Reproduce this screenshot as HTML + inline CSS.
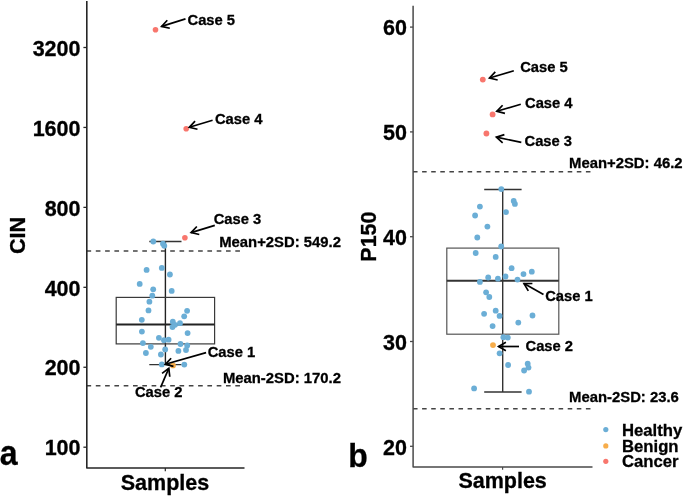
<!DOCTYPE html>
<html><head><meta charset="utf-8"><style>
html,body{margin:0;padding:0;background:#fff;}
svg{display:block;filter:blur(0.3px);}
text{font-family:"Liberation Sans",sans-serif;font-weight:bold;fill:#000;stroke:#000;stroke-width:0.3px;}
</style></head><body>
<svg width="685" height="496" viewBox="0 0 685 496">
<rect width="685" height="496" fill="#fff"/>
<line x1="86.5" y1="250.9" x2="244.5" y2="250.9" stroke="#444" stroke-width="1.45" stroke-dasharray="4.65 4.65"/>
<line x1="86.5" y1="385.8" x2="244.5" y2="385.8" stroke="#444" stroke-width="1.45" stroke-dasharray="4.65 4.65"/>
<line x1="165.4" y1="241.5" x2="165.4" y2="364.6" stroke="#222" stroke-width="1.4" />
<line x1="149.3" y1="241.5" x2="181.5" y2="241.5" stroke="#333" stroke-width="1.4" />
<line x1="149.3" y1="364.6" x2="181.5" y2="364.6" stroke="#333" stroke-width="1.4" />
<rect x="116.2" y="297.4" width="98.4" height="46.5" fill="none" stroke="#3a3a3a" stroke-width="1.2"/>
<line x1="116.2" y1="324.5" x2="214.6" y2="324.5" stroke="#222" stroke-width="2.2" />
<circle cx="153.3" cy="241.5" r="2.9" fill="#6BAED6"/>
<circle cx="163.0" cy="243.7" r="2.9" fill="#6BAED6"/>
<circle cx="164.3" cy="245.8" r="2.9" fill="#6BAED6"/>
<circle cx="146.6" cy="269.9" r="2.9" fill="#6BAED6"/>
<circle cx="161.8" cy="267.9" r="2.9" fill="#6BAED6"/>
<circle cx="169.9" cy="274.5" r="2.9" fill="#6BAED6"/>
<circle cx="139.7" cy="283.9" r="2.9" fill="#6BAED6"/>
<circle cx="153.2" cy="289.3" r="2.9" fill="#6BAED6"/>
<circle cx="171.7" cy="290.9" r="2.9" fill="#6BAED6"/>
<circle cx="152.3" cy="295.7" r="2.9" fill="#6BAED6"/>
<circle cx="149.4" cy="301.7" r="2.9" fill="#6BAED6"/>
<circle cx="148.5" cy="310.4" r="2.9" fill="#6BAED6"/>
<circle cx="141.8" cy="319.8" r="2.9" fill="#6BAED6"/>
<circle cx="141.9" cy="331.6" r="2.9" fill="#6BAED6"/>
<circle cx="187.1" cy="310.8" r="2.9" fill="#6BAED6"/>
<circle cx="184.2" cy="316.3" r="2.9" fill="#6BAED6"/>
<circle cx="180.0" cy="323.2" r="2.9" fill="#6BAED6"/>
<circle cx="172.8" cy="321.6" r="2.9" fill="#6BAED6"/>
<circle cx="175.0" cy="324.8" r="2.9" fill="#6BAED6"/>
<circle cx="172.5" cy="327.0" r="2.9" fill="#6BAED6"/>
<circle cx="187.6" cy="333.1" r="2.9" fill="#6BAED6"/>
<circle cx="158.9" cy="337.8" r="2.9" fill="#6BAED6"/>
<circle cx="164.0" cy="340.2" r="2.9" fill="#6BAED6"/>
<circle cx="168.6" cy="339.7" r="2.9" fill="#6BAED6"/>
<circle cx="142.9" cy="343.1" r="2.9" fill="#6BAED6"/>
<circle cx="150.8" cy="346.8" r="2.9" fill="#6BAED6"/>
<circle cx="180.5" cy="344.0" r="2.9" fill="#6BAED6"/>
<circle cx="187.2" cy="345.5" r="2.9" fill="#6BAED6"/>
<circle cx="165.2" cy="349.4" r="2.9" fill="#6BAED6"/>
<circle cx="186.0" cy="350.0" r="2.9" fill="#6BAED6"/>
<circle cx="178.4" cy="350.9" r="2.9" fill="#6BAED6"/>
<circle cx="145.9" cy="353.0" r="2.9" fill="#6BAED6"/>
<circle cx="160.9" cy="354.5" r="2.9" fill="#6BAED6"/>
<circle cx="161.8" cy="364.4" r="2.9" fill="#6BAED6"/>
<circle cx="184.3" cy="364.6" r="2.9" fill="#6BAED6"/>
<circle cx="173.0" cy="365.4" r="2.9" fill="#F7AD4B"/>
<circle cx="184.9" cy="237.7" r="2.8" fill="#F8766D"/>
<circle cx="186.2" cy="128.7" r="2.8" fill="#F8766D"/>
<circle cx="155.5" cy="29.8" r="2.8" fill="#F8766D"/>
<polyline points="86.8,0.9 86.8,468 244.5,468" fill="none" stroke="#262626" stroke-width="1.6" stroke-linejoin="round"/>
<line x1="83.4" y1="447.2" x2="86.8" y2="447.2" stroke="#262626" stroke-width="1.3" />
<text x="80.5" y="455.4" font-size="21.5" text-anchor="end" >100</text>
<line x1="83.4" y1="367.26" x2="86.8" y2="367.26" stroke="#262626" stroke-width="1.3" />
<text x="80.5" y="375.46" font-size="21.5" text-anchor="end" >200</text>
<line x1="83.4" y1="287.32" x2="86.8" y2="287.32" stroke="#262626" stroke-width="1.3" />
<text x="80.5" y="295.52" font-size="21.5" text-anchor="end" >400</text>
<line x1="83.4" y1="207.38" x2="86.8" y2="207.38" stroke="#262626" stroke-width="1.3" />
<text x="80.5" y="215.58" font-size="21.5" text-anchor="end" >800</text>
<line x1="83.4" y1="127.44" x2="86.8" y2="127.44" stroke="#262626" stroke-width="1.3" />
<text x="80.5" y="135.64" font-size="21.5" text-anchor="end" >1600</text>
<line x1="83.4" y1="47.5" x2="86.8" y2="47.5" stroke="#262626" stroke-width="1.3" />
<text x="80.5" y="55.7" font-size="21.5" text-anchor="end" >3200</text>
<line x1="165.3" y1="468" x2="165.3" y2="471.3" stroke="#262626" stroke-width="1.2" />
<text x="165.0" y="489.9" font-size="21.5" text-anchor="middle" >Samples</text>
<text x="0" y="0" font-size="21.6" text-anchor="middle" transform="translate(25.0,235.5) rotate(-90)">CIN</text>
<text x="0" y="0" font-size="34.5" transform="translate(-0.3,464.8) scale(0.93,1)">a</text>
<line x1="185.5" y1="18.9" x2="161.6" y2="26.4" stroke="#000" stroke-width="1.7"/>
<polyline points="169.80,28.23 161.6,26.4 167.28,20.21" fill="none" stroke="#000" stroke-width="1.7" stroke-linejoin="miter"/>
<text x="187.5" y="24.5" font-size="14.75" text-anchor="start" >Case 5</text>
<line x1="212.6" y1="120.3" x2="189.3" y2="127.3" stroke="#000" stroke-width="1.7"/>
<polyline points="197.48,129.23 189.3,127.3 195.06,121.18" fill="none" stroke="#000" stroke-width="1.7" stroke-linejoin="miter"/>
<text x="214.9" y="123.9" font-size="14.75" text-anchor="start" >Case 4</text>
<line x1="214.8" y1="225.4" x2="191.1" y2="232.6" stroke="#000" stroke-width="1.7"/>
<polyline points="199.28,234.50 191.1,232.6 196.84,226.47" fill="none" stroke="#000" stroke-width="1.7" stroke-linejoin="miter"/>
<text x="213.7" y="224.4" font-size="14.75" text-anchor="start" >Case 3</text>
<line x1="206.1" y1="352.6" x2="165.3" y2="364.3" stroke="#000" stroke-width="1.7"/>
<polyline points="173.45,366.33 165.3,364.3 171.14,358.26" fill="none" stroke="#000" stroke-width="1.7" stroke-linejoin="miter"/>
<text x="207.7" y="356.7" font-size="14.75" text-anchor="start" >Case 1</text>
<line x1="160.6" y1="387.4" x2="168.8" y2="368.4" stroke="#000" stroke-width="1.7"/>
<polyline points="162.06,373.41 168.8,368.4 169.77,376.74" fill="none" stroke="#000" stroke-width="1.7" stroke-linejoin="miter"/>
<text x="134.9" y="397.0" font-size="14.75" text-anchor="start" >Case 2</text>
<text x="340.9" y="246.6" font-size="14.85" text-anchor="end" >Mean+2SD: 549.2</text>
<text x="340.9" y="382.7" font-size="14.85" text-anchor="end" >Mean-2SD: 170.2</text>
<line x1="413" y1="171.8" x2="592.5" y2="171.8" stroke="#444" stroke-width="1.5" stroke-dasharray="4.55 4.55"/>
<line x1="413" y1="408.8" x2="592.5" y2="408.8" stroke="#444" stroke-width="1.5" stroke-dasharray="4.55 4.55"/>
<line x1="502.7" y1="189.4" x2="502.7" y2="392.1" stroke="#333" stroke-width="1.4" />
<line x1="484.2" y1="189.4" x2="521.6" y2="189.4" stroke="#333" stroke-width="1.5" />
<line x1="484.2" y1="392.1" x2="521.6" y2="392.1" stroke="#333" stroke-width="1.5" />
<rect x="446.8" y="248.1" width="112" height="86.1" fill="none" stroke="#555" stroke-width="1.2"/>
<line x1="446.8" y1="280.85" x2="558.8" y2="280.85" stroke="#333" stroke-width="2.0" />
<circle cx="501.3" cy="189.1" r="2.9" fill="#6BAED6"/>
<circle cx="513.7" cy="201.0" r="2.9" fill="#6BAED6"/>
<circle cx="514.9" cy="203.9" r="2.9" fill="#6BAED6"/>
<circle cx="479.9" cy="206.6" r="2.9" fill="#6BAED6"/>
<circle cx="475.1" cy="215.5" r="2.9" fill="#6BAED6"/>
<circle cx="506.0" cy="212.1" r="2.9" fill="#6BAED6"/>
<circle cx="487.4" cy="226.6" r="2.9" fill="#6BAED6"/>
<circle cx="477.3" cy="237.5" r="2.9" fill="#6BAED6"/>
<circle cx="501.2" cy="246.4" r="2.9" fill="#6BAED6"/>
<circle cx="475.7" cy="253.0" r="2.9" fill="#6BAED6"/>
<circle cx="495.7" cy="256.9" r="2.9" fill="#6BAED6"/>
<circle cx="511.6" cy="268.2" r="2.9" fill="#6BAED6"/>
<circle cx="531.8" cy="271.7" r="2.9" fill="#6BAED6"/>
<circle cx="523.5" cy="274.1" r="2.9" fill="#6BAED6"/>
<circle cx="488.2" cy="277.5" r="2.9" fill="#6BAED6"/>
<circle cx="497.9" cy="278.7" r="2.9" fill="#6BAED6"/>
<circle cx="505.5" cy="276.5" r="2.9" fill="#6BAED6"/>
<circle cx="517.5" cy="279.6" r="2.9" fill="#6BAED6"/>
<circle cx="479.9" cy="281.9" r="2.9" fill="#6BAED6"/>
<circle cx="486.1" cy="292.3" r="2.9" fill="#6BAED6"/>
<circle cx="489.3" cy="297.0" r="2.9" fill="#6BAED6"/>
<circle cx="495.7" cy="310.7" r="2.9" fill="#6BAED6"/>
<circle cx="484.1" cy="313.8" r="2.9" fill="#6BAED6"/>
<circle cx="499.6" cy="315.9" r="2.9" fill="#6BAED6"/>
<circle cx="532.5" cy="315.5" r="2.9" fill="#6BAED6"/>
<circle cx="518.3" cy="322.6" r="2.9" fill="#6BAED6"/>
<circle cx="492.6" cy="326.1" r="2.9" fill="#6BAED6"/>
<circle cx="503.4" cy="337.2" r="2.9" fill="#6BAED6"/>
<circle cx="507.8" cy="337.6" r="2.9" fill="#6BAED6"/>
<circle cx="499.6" cy="353.3" r="2.9" fill="#6BAED6"/>
<circle cx="508.1" cy="365.0" r="2.9" fill="#6BAED6"/>
<circle cx="527.7" cy="363.7" r="2.9" fill="#6BAED6"/>
<circle cx="528.5" cy="367.6" r="2.9" fill="#6BAED6"/>
<circle cx="524.1" cy="370.5" r="2.9" fill="#6BAED6"/>
<circle cx="474.1" cy="388.4" r="2.9" fill="#6BAED6"/>
<circle cx="529.0" cy="391.7" r="2.9" fill="#6BAED6"/>
<circle cx="493.0" cy="345.1" r="2.9" fill="#F7AD4B"/>
<circle cx="482.8" cy="79.6" r="2.9" fill="#F8766D"/>
<circle cx="492.6" cy="114.4" r="2.9" fill="#F8766D"/>
<circle cx="486.4" cy="133.5" r="2.9" fill="#F8766D"/>
<polyline points="413.1,5.8 413.1,467 592.5,467" fill="none" stroke="#4a4a4a" stroke-width="1.5" stroke-linejoin="round"/>
<line x1="410" y1="446.3" x2="413.1" y2="446.3" stroke="#4a4a4a" stroke-width="1.3" />
<text x="406.9" y="454.5" font-size="21.5" text-anchor="end" >20</text>
<line x1="410" y1="341.5" x2="413.1" y2="341.5" stroke="#4a4a4a" stroke-width="1.3" />
<text x="406.9" y="349.7" font-size="21.5" text-anchor="end" >30</text>
<line x1="410" y1="236.7" x2="413.1" y2="236.7" stroke="#4a4a4a" stroke-width="1.3" />
<text x="406.9" y="244.9" font-size="21.5" text-anchor="end" >40</text>
<line x1="410" y1="131.89999999999998" x2="413.1" y2="131.89999999999998" stroke="#4a4a4a" stroke-width="1.3" />
<text x="406.9" y="140.1" font-size="21.5" text-anchor="end" >50</text>
<line x1="410" y1="27.099999999999966" x2="413.1" y2="27.099999999999966" stroke="#4a4a4a" stroke-width="1.3" />
<text x="406.9" y="35.3" font-size="21.5" text-anchor="end" >60</text>
<line x1="502.6" y1="467" x2="502.6" y2="469.8" stroke="#4a4a4a" stroke-width="1.2" />
<text x="502.6" y="488.4" font-size="21.5" text-anchor="middle" >Samples</text>
<text x="0" y="0" font-size="21.5" text-anchor="middle" transform="translate(376.0,236.6) rotate(-90)">P150</text>
<text x="0" y="0" font-size="34" transform="translate(348.2,467.3) scale(0.94,1)">b</text>
<line x1="513.8" y1="70.8" x2="489.5" y2="78.0" stroke="#000" stroke-width="1.7"/>
<polyline points="497.67,79.96 489.5,78.0 495.28,71.91" fill="none" stroke="#000" stroke-width="1.7" stroke-linejoin="miter"/>
<text x="520.2" y="72.1" font-size="14.75" text-anchor="start" >Case 5</text>
<line x1="520.8" y1="104.3" x2="496.8" y2="111.3" stroke="#000" stroke-width="1.7"/>
<polyline points="504.96,113.30 496.8,111.3 502.61,105.23" fill="none" stroke="#000" stroke-width="1.7" stroke-linejoin="miter"/>
<text x="525.0" y="108.0" font-size="14.75" text-anchor="start" >Case 4</text>
<line x1="521.3" y1="142.4" x2="496.4" y2="137.2" stroke="#000" stroke-width="1.7"/>
<polyline points="502.66,142.80 496.4,137.2 504.38,134.58" fill="none" stroke="#000" stroke-width="1.7" stroke-linejoin="miter"/>
<text x="524.5" y="145.8" font-size="14.75" text-anchor="start" >Case 3</text>
<line x1="543.5" y1="294.5" x2="524.0" y2="283.6" stroke="#000" stroke-width="1.7"/>
<polyline points="528.30,290.82 524.0,283.6 532.40,283.48" fill="none" stroke="#000" stroke-width="1.7" stroke-linejoin="miter"/>
<text x="545.2" y="301.1" font-size="14.75" text-anchor="start" >Case 1</text>
<line x1="519.0" y1="346.5" x2="498.6" y2="346.5" stroke="#000" stroke-width="1.7"/>
<polyline points="505.87,350.70 498.6,346.5 505.87,342.30" fill="none" stroke="#000" stroke-width="1.7" stroke-linejoin="miter"/>
<text x="525.5" y="351.0" font-size="14.75" text-anchor="start" >Case 2</text>
<text x="569.1" y="168.4" font-size="14.85" text-anchor="start" >Mean+2SD: 46.2</text>
<text x="569.1" y="402.1" font-size="14.85" text-anchor="start" >Mean-2SD: 23.6</text>
<circle cx="605.8" cy="429.6" r="2.6" fill="#6BAED6"/>
<circle cx="605.8" cy="445.9" r="2.6" fill="#F7AD4B"/>
<circle cx="605.8" cy="461.3" r="2.6" fill="#F8766D"/>
<text x="622.0" y="435.9" font-size="16.7" text-anchor="start" >Healthy</text>
<text x="622.0" y="451.9" font-size="16.7" text-anchor="start" >Benign</text>
<text x="622.0" y="467.4" font-size="16.7" text-anchor="start" >Cancer</text>
</svg></body></html>
